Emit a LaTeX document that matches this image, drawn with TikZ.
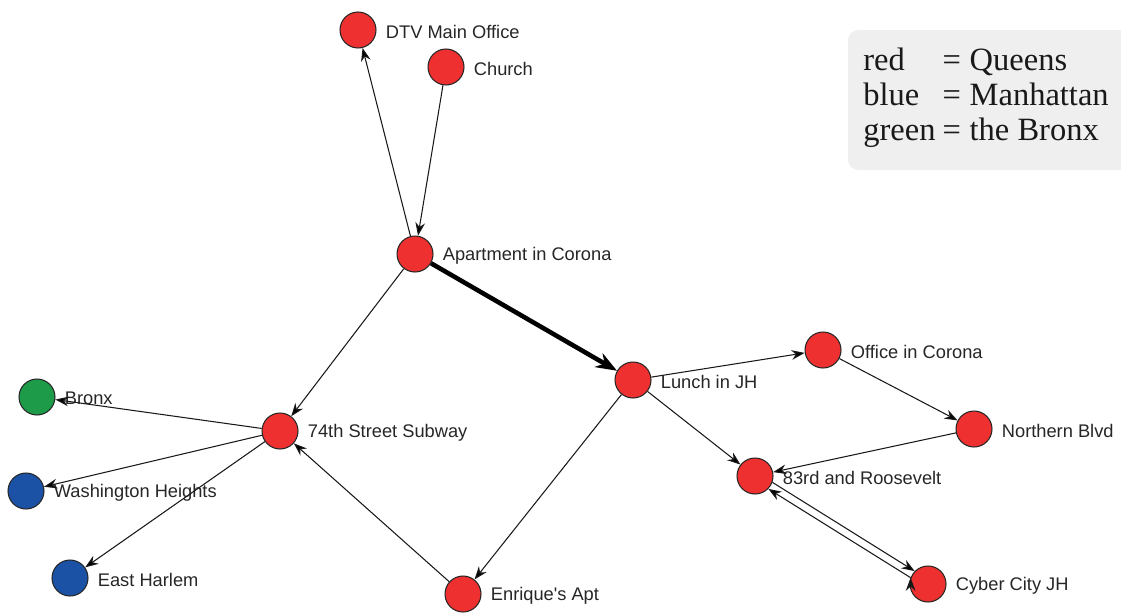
\documentclass[tikz,border=0pt]{standalone}
\usepackage{fontspec}
\setmainfont{Liberation Serif}
\newfontfamily\placefont{Liberation Sans}
\usetikzlibrary{arrows.meta,positioning}
\definecolor{queens}{RGB}{238,48,48}
\definecolor{manhattan}{RGB}{28,82,165}
\definecolor{bronx}{RGB}{30,155,72}
\definecolor{legendgray}{RGB}{239,239,239}

\begin{document}
\begin{tikzpicture}[x=0.02cm,y=-0.02cm,
  >={Stealth[length=7.5pt,width=5.5pt]},
  place/.style={circle,draw=black!85,line width=0.6pt,fill=queens,
    minimum size=0.72cm,inner sep=0pt,label={[placelabel]right:#1}},
  placelabel/.style={font=\placefont\fontsize{10.4}{12}\selectfont,
    text=black!85,label distance=1.8pt,yshift=-1pt},
  link/.style={->,draw=black!90,line width=0.6pt},
  mainlink/.style={-{Stealth[length=12pt,width=9pt]},draw=black,line width=2.6pt}]
  \useasboundingbox (0,0) rectangle (1121,612);

  % legend
  \fill[legendgray,rounded corners=6pt] (848,30) rectangle (1150,170);
  \node[anchor=north west,inner sep=0pt,text=black!90,
    font=\fontsize{18.5}{19.8}\selectfont] (legend) at (863,46)
    {\begin{tabular}{@{}l@{\hspace{4pt}}l@{}}
      red   & =\hspace{5pt}Queens\\
      blue  & =\hspace{5pt}Manhattan\\
      green & =\hspace{5pt}the Bronx
    \end{tabular}};

  % places
  \node[place=DTV Main Office]    (dtv)     at (358,30)  {};
  \node[place=Church]             (church)  at (446,67)  {};
  \node[place=Apartment in Corona](apt)     at (415,254) {};
  \node[place=Lunch in JH]        (lunch)   at (633,380) {};
  \node[place=Office in Corona]   (office)  at (823,350) {};
  \node[place=Northern Blvd]      (northern)at (974,429) {};
  \node[place=83rd and Roosevelt] (rsvlt)   at (755,476) {};
  \node[place=Cyber City JH]      (cyber)   at (928,584) {};
  \node[place=74th Street Subway] (subway)  at (280,431) {};
  \node[place=Enrique's Apt]      (enrique) at (463,594) {};
  \node[place=Bronx,fill=bronx]   (bronx)   at (37,397)  {};
  \node[place=Washington Heights,fill=manhattan] (wash) at (26,491) {};
  \node[place=East Harlem,fill=manhattan]        (harlem) at (70,578) {};

  % trips
  \path[link]
  (apt)     edge (dtv)
            edge (subway)
  (church)  edge (apt)
  (lunch)   edge (office)
            edge (rsvlt)
            edge (enrique)
  (office)  edge (northern)
  (northern)edge (rsvlt)
  (enrique) edge (subway)
  (subway)  edge (bronx)
            edge (wash)
            edge (harlem)
  (rsvlt.-20) edge (cyber.136)
  (cyber.160) edge (rsvlt.-44);
  \draw[mainlink] (apt) -- (lunch);
\end{tikzpicture}
\end{document}
